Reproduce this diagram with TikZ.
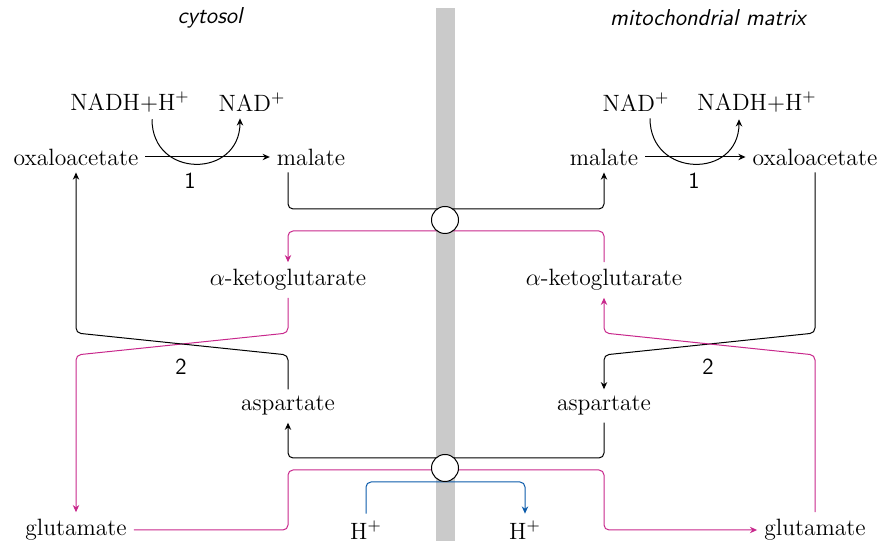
\documentclass[tikz,border=0pt]{standalone}
\usepackage{tikz}
\usetikzlibrary{arrows.meta}
\definecolor{kgpink}{RGB}{200,40,140}
\definecolor{hblue}{RGB}{10,90,170}
\definecolor{membgray}{RGB}{202,202,202}

\tikzset{
  lane/.style={rounded corners=2.5pt},
  kgline/.style={lane, draw=kgpink},
  hline/.style={lane, draw=hblue},
  carrier/.style={circle, draw, fill=white, minimum size=13.5pt, inner sep=0pt},
  enzyme/.style={font=\sffamily\fontsize{11.5}{13}\selectfont},
}

\begin{document}
\begin{tikzpicture}[x=0.5pt, y=-0.5pt, >={Stealth[length=3.6pt,width=3.2pt]},
    line width=0.5pt, font=\fontsize{11.8}{14}\selectfont]

      \useasboundingbox (0, 0) rectangle (879, 544);

      % membrane
      \fill[membgray] (436, 8) rectangle (455, 541);
      \node[font=\sffamily\itshape\fontsize{11.5}{14}\selectfont] (cyto) at (210, 18) {cytosol};
      \node[font=\sffamily\itshape\fontsize{11.5}{14}\selectfont] (mito) at (708, 18) {mitochondrial matrix};

      % lanes through the carriers
      \coordinate (topK) at (445, 209);
      \coordinate (topM) at (445, 231);
      \coordinate (botK) at (445, 458);
      \coordinate (botM) at (445, 470);
      \coordinate (botH) at (445, 482);
      \coordinate (xa) at (0, 333);
      \coordinate (xb) at (0, 355);

      \begin{scope}[shift={(0, 0)}]
        \node (nadhL) at (130, 102) {NADH+H$^+$};
        \node (nadL) at (252, 102) {NAD$^+$};
        \node (oaaL) at (76, 157) {oxaloacetate};
        \node (malL) at (311, 157) {malate};
        \node (akgL) at (288, 280) {$\alpha$-ketoglutarate};
        \node (aspL) at (288, 406) {aspartate};
        \node (gluL) at (76, 530) {glutamate};
        \node (hL) at (366, 530) {H$^+$};
        \node[enzyme] (e1L) at (190, 181) {1};
        \node[enzyme] (e2L) at (181, 367) {2};
      \end{scope}

      \begin{scope}[shift={(0, 0)}]
        \node (nadR) at (636, 102) {NAD$^+$};
        \node (nadhR) at (757, 102) {NADH+H$^+$};
        \node (malR) at (604, 157) {malate};
        \node (oaaR) at (815, 157) {oxaloacetate};
        \node (akgR) at (604, 280) {$\alpha$-ketoglutarate};
        \node (aspR) at (604, 406) {aspartate};
        \node (gluR) at (815, 530) {glutamate};
        \node (hR) at (525, 530) {H$^+$};
        \node[enzyme] (e1R) at (694, 181) {1};
        \node[enzyme] (e2R) at (708, 367) {2};
      \end{scope}

      % step 1
      \draw[->] (oaaL.east) -- (malL.west);
      \draw[->] ([xshift=11pt]nadhL.south) .. controls +(0, 60) and +(0, 60) .. ([xshift=-6pt]nadL.south);
      \draw[->] (malR.east) -- (oaaR.west);
      \draw[->] ([xshift=7pt]nadR.south) .. controls +(0, 60) and +(0, 60) .. ([xshift=-9pt]nadhR.south);

      % malate / alpha-ketoglutarate carrier
      \draw[lane, ->] (malL.south -| akgL) |- (topK) -| (malR.south);
      \draw[kgline, ->] (akgR.north) |- (topM) -| (akgL.north);

      % step 2, cytosol
      \draw[kgline, ->] (akgL.south) -- (akgL |- xa) -- (gluL |- xb) -- (gluL.north);
      \draw[lane, ->] (aspL.north) -- (aspL |- xb) -- (oaaL |- xa) -- (oaaL.south);

      % step 2, matrix
      \draw[lane, ->] (oaaR.south) -- (oaaR |- xa) -- (aspR |- xb) -- (aspR.north);
      \draw[kgline, ->] (gluR.north) -- (gluR |- xb) -- (akgR |- xa) -- (akgR.south);

      % aspartate / glutamate carrier
      \draw[lane, ->] (aspR.south) |- (botK) -| (aspL.south);
      \draw[kgline, ->] (gluL.east) -- (gluL.east -| aspL) |- (botM) -| (gluR.west -| aspR) -- (gluR.west);
      \draw[hline, ->] (hL.north) |- (botH) -| (hR.north);

      \node[carrier] (carA) at (445, 220) {};
      \node[carrier] (carB) at (445, 468) {};
    \end{tikzpicture}
\end{document}
